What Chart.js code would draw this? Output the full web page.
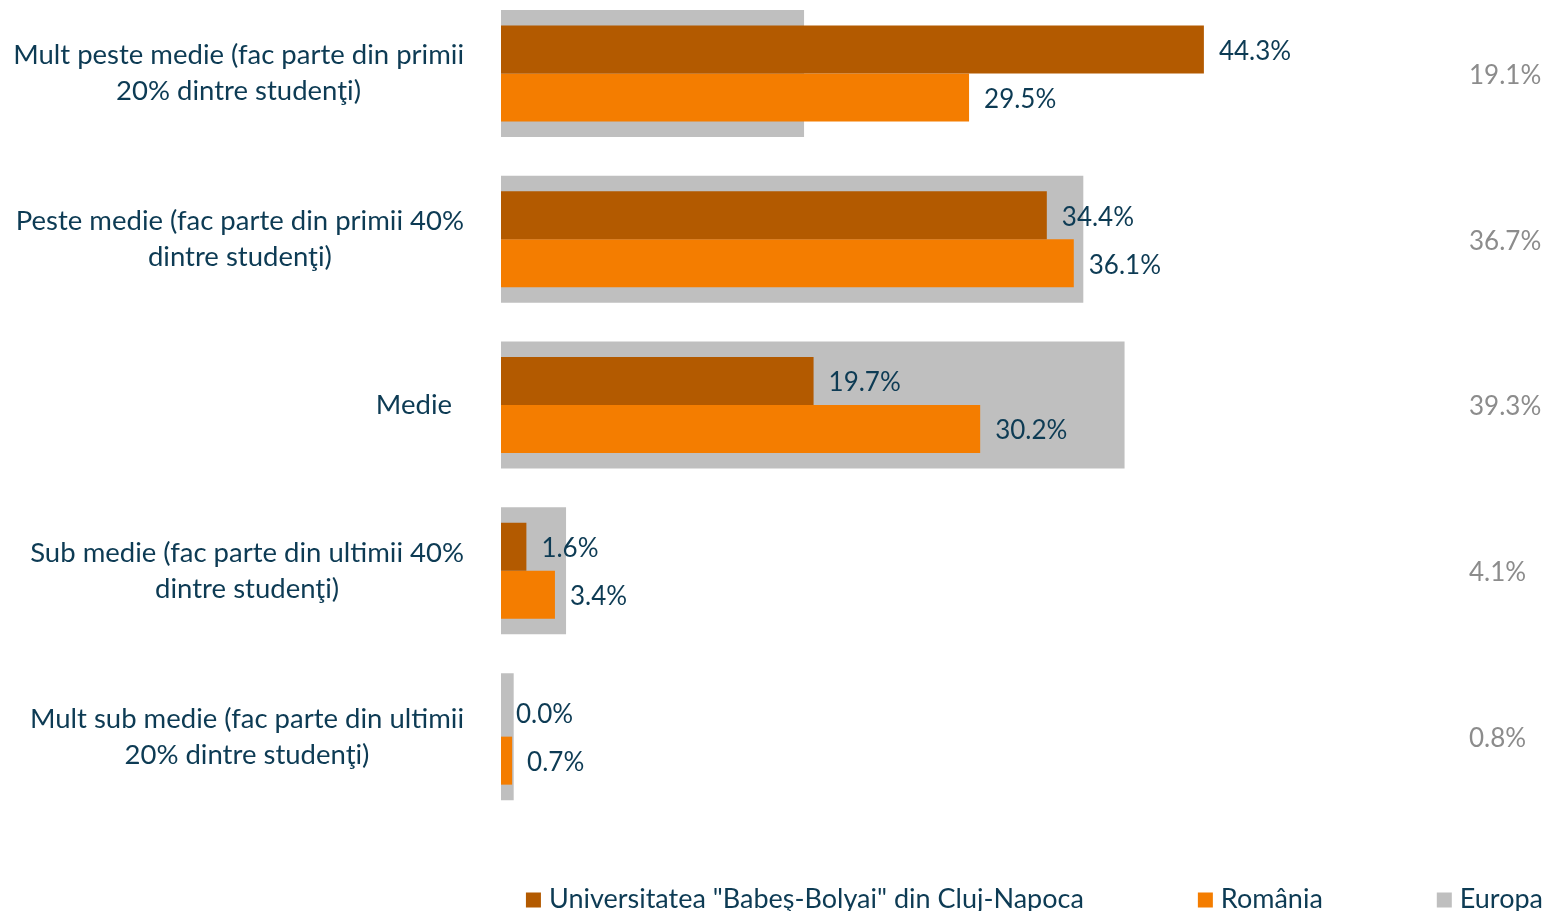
<!DOCTYPE html>
<html>
<head>
<meta charset="utf-8">
<script src="https://cdn.jsdelivr.net/npm/chart.js@4.4.1/dist/chart.umd.min.js"></script>
<style>
  html, body { margin: 0; padding: 0; background: #fff; }
  #wrap { width: 1547px; height: 911px; position: relative; }
</style>
</head>
<body>
<div id="wrap"><canvas id="chart"></canvas></div>
<script>
// categories, one array of lines per label
const categories = [
  ['Mult peste medie (fac parte din primii', '20% dintre studenţi)'],
  ['Peste medie (fac parte din primii 40%', 'dintre studenţi)'],
  ['Medie'],
  ['Sub medie (fac parte din ultimii 40%', 'dintre studenţi)'],
  ['Mult sub medie (fac parte din ultimii', '20% dintre studenţi)']
];
const seriesNames = ['Universitatea "Babeş-Bolyai" din Cluj-Napoca', 'România', 'Europa'];
const ubbValues = [44.3, 34.4, 19.7, 1.6, 0.0];
const romaniaValues = [29.5, 36.1, 30.2, 3.4, 0.7];
const europeValues = [19.1, 36.7, 39.3, 4.1, 0.8];

const FONT = 'Lato, "Open Sans", sans-serif';
const TEXT_COLOR = '#0d3b54';
const EUROPE_TEXT = '#8c8c8c';
const COLORS = ['#b35a00', '#f47d00', '#bfbfbf'];

function pct(v) {
  return v.toFixed(1) + '%';
}

function points(values) {
  return values.map((v, i) => ({ x: v, y: i }));
}

// labels, value labels and legend drawn on top of the bars
const labelsPlugin = {
  id: 'labelsPlugin',
  afterDatasetsDraw(chart) {
    const ctx = chart.ctx;
    const area = chart.chartArea;
    const yScale = chart.scales.y;
    ctx.save();
    ctx.textBaseline = 'middle';

    // category labels: block right aligned, lines centred in the block
    ctx.font = '27.5px ' + FONT;
    ctx.fillStyle = TEXT_COLOR;
    ctx.textAlign = 'center';
    const labelRight = area.left - 37;
    const lineHeight = 36;
    categories.forEach((lines, i) => {
      const cy = yScale.getPixelForValue(i);
      const maxW = Math.max(...lines.map(l => ctx.measureText(l).width));
      // single short label sits a little off the axis, like the original
      const right = lines.length === 1 ? labelRight - 12 : labelRight;
      const cx = right - maxW / 2;
      const y0 = cy - (lines.length - 1) * lineHeight / 2;
      lines.forEach((l, j) => ctx.fillText(l, cx, y0 + j * lineHeight));
    });

    // value labels for the two coloured series
    ctx.font = '26px ' + FONT;
    ctx.textAlign = 'left';
    [ubbValues, romaniaValues].forEach((values, di) => {
      const meta = chart.getDatasetMeta(di);
      meta.data.forEach((bar, i) => {
        ctx.fillText(pct(values[i]), bar.x + 15, bar.y + 2);
      });
    });

    // europe values in a column on the right
    ctx.fillStyle = EUROPE_TEXT;
    europeValues.forEach((v, i) => {
      ctx.fillText(pct(v), area.right + 16, yScale.getPixelForValue(i) + 2);
    });

    // legend
    ctx.font = '27px ' + FONT;
    const gap = 114;
    const box = 15;
    const widths = seriesNames.map(n => box + 8 + ctx.measureText(n).width);
    const total = widths.reduce((a, b) => a + b, 0) + gap * (widths.length - 1);
    let x = chart.width - 4 - total;
    const ly = area.bottom + 70;
    seriesNames.forEach((n, i) => {
      ctx.fillStyle = COLORS[i];
      ctx.fillRect(x, ly - box / 2 + 1, box, box);
      ctx.fillStyle = TEXT_COLOR;
      ctx.fillText(n, x + box + 8, ly);
      x += widths[i] + gap;
    });
    ctx.restore();
  }
};

const ctx = document.getElementById('chart');
new Chart(ctx, {
  type: 'bar',
  data: {
    datasets: [
      {
        label: seriesNames[0],
        data: points(ubbValues),
        backgroundColor: COLORS[0],
        categoryPercentage: 0.579,
        barPercentage: 1,
        order: 0
      },
      {
        label: seriesNames[1],
        data: points(romaniaValues),
        backgroundColor: COLORS[1],
        categoryPercentage: 0.579,
        barPercentage: 1,
        order: 0
      },
      {
        label: seriesNames[2],
        data: points(europeValues),
        backgroundColor: COLORS[2],
        grouped: false,
        categoryPercentage: 1,
        barPercentage: 0.766,
        order: 1
      }
    ]
  },
  plugins: [labelsPlugin],
  options: {
    indexAxis: 'y',
    responsive: true,
    maintainAspectRatio: false,
    animation: false,
    layout: {
      padding: { left: 501, right: 94, top: 0, bottom: 82 }
    },
    plugins: {
      legend: { display: false },
      tooltip: { enabled: false }
    },
    scales: {
      x: {
        type: 'linear',
        min: 0,
        max: 60,
        display: false
      },
      y: {
        type: 'linear',
        reverse: true,
        offset: false,
        min: -0.443,
        max: 4.557,
        display: false,
        ticks: { stepSize: 1 },
        // keep only the category positions so bar widths follow the band size
        afterBuildTicks(scale) {
          scale.ticks = scale.ticks.filter(t => Number.isInteger(t.value));
        }
      }
    }
  }
});
</script>
</body>
</html>
